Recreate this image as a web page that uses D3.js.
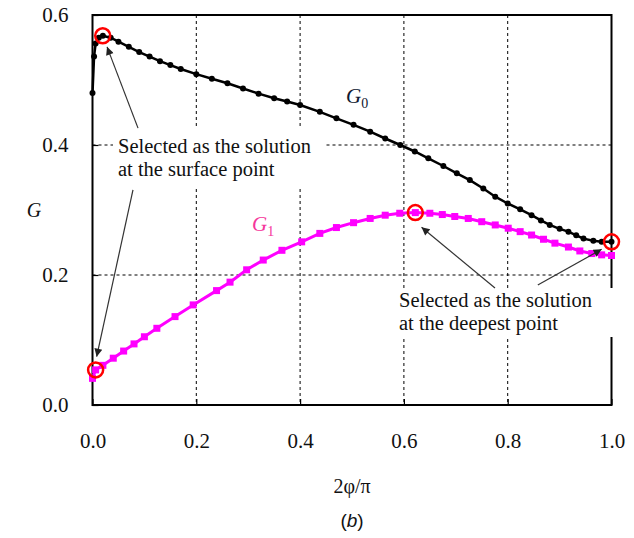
<!DOCTYPE html>
<html><head><meta charset="utf-8">
<script src="https://cdn.jsdelivr.net/npm/d3@7"></script>
<style>html,body{margin:0;padding:0;background:#fff;}svg{display:block;}</style>
</head><body>
<svg id="chart" width="634" height="538"></svg>
<script>
// ---- data ----
const g0X = [0,0.003,0.006,0.012,0.02,0.035,0.05,0.07,0.09,0.11,0.13,0.15,0.17,0.2,0.23,0.26,0.29,0.32,0.35,0.375,0.4,0.438,0.47,0.503,0.535,0.564,0.593,0.621,0.647,0.676,0.702,0.727,0.753,0.776,0.8,0.824,0.846,0.864,0.881,0.9,0.917,0.932,0.946,0.965,0.981,1.0];
const g0Y = [0.48,0.536,0.556,0.565,0.568,0.565,0.559,0.551,0.543,0.536,0.529,0.523,0.517,0.509,0.502,0.495,0.487,0.479,0.472,0.467,0.4615,0.451,0.441,0.431,0.4205,0.41,0.4,0.39,0.3795,0.3677,0.3564,0.346,0.333,0.3205,0.31,0.301,0.292,0.284,0.277,0.271,0.2667,0.261,0.256,0.2528,0.2513,0.251];
const g1X = [0,0.006,0.02,0.04,0.06,0.08,0.1,0.124,0.159,0.194,0.239,0.265,0.297,0.329,0.365,0.403,0.438,0.47,0.503,0.535,0.564,0.592,0.622,0.65,0.674,0.698,0.724,0.75,0.776,0.801,0.824,0.846,0.869,0.891,0.917,0.939,0.962,0.981,1.0];
const g1Y = [0.041,0.054,0.061,0.072,0.083,0.094,0.105,0.118,0.136,0.154,0.176,0.189,0.208,0.223,0.238,0.251,0.264,0.273,0.2805,0.287,0.292,0.295,0.296,0.295,0.293,0.29,0.287,0.282,0.277,0.272,0.2667,0.2615,0.255,0.249,0.243,0.237,0.233,0.231,0.23];
const selX = [0.0197,0.006,0.622,1.0];
const selY = [0.568,0.054,0.296,0.251];
const xTicks = [0,0.2,0.4,0.6,0.8,1.0];
const yTicks = [0,0.2,0.4,0.6];
const xTickLabels = ["0.0","0.2","0.4","0.6","0.8","1.0"];
const yTickLabels = ["0.0","0.2","0.4","0.6"];
const noteTop = ["Selected as the solution","at the surface point"];
const noteBottom = ["Selected as the solution","at the deepest point"];
// arrows in data units: [x1,y1,x2(tip),y2(tip)]
const arrows = [[0.0877,0.426,0.028,0.551],[0.078,0.331,0.008,0.0743],[0.7755,0.18,0.634,0.2734],[0.858,0.1846,0.981,0.2395]];

// ---- layout ----
const L=92.5, R=611.5, T=15, B=405;
const x = d3.scaleLinear().domain([0,1]).range([L,R]);
const y = d3.scaleLinear().domain([0,0.6]).range([B,T]);
const svg = d3.select("#chart");
const serif = "'Liberation Serif','Times New Roman',serif";

// grid
svg.append("g").selectAll("line").data(xTicks.filter(v=>v>0&&v<1)).join("line")
  .attr("x1",d=>x(d)).attr("x2",d=>x(d)).attr("y1",T).attr("y2",B)
  .attr("stroke","#000").attr("stroke-width",1).attr("stroke-dasharray","3,3");
svg.append("g").selectAll("line").data(yTicks.filter(v=>v>0&&v<0.6)).join("line")
  .attr("x1",L).attr("x2",R).attr("y1",d=>y(d)).attr("y2",d=>y(d))
  .attr("stroke","#000").attr("stroke-width",1).attr("stroke-dasharray","3,3");

// axes (inner ticks)
const xAxis = svg.append("g").attr("transform",`translate(0,${B})`)
  .call(d3.axisBottom(x).tickValues(xTicks).tickSizeInner(-6).tickSizeOuter(0).tickPadding(28).tickFormat((d,i)=>xTickLabels[i]));
const yAxis = svg.append("g").attr("transform",`translate(${L},0)`)
  .call(d3.axisLeft(y).tickValues(yTicks).tickSizeInner(-6).tickSizeOuter(0).tickPadding(24).tickFormat((d,i)=>yTickLabels[i]));
[xAxis,yAxis].forEach(a=>{
  a.select(".domain").remove();
  a.selectAll(".tick line").attr("stroke","#000").attr("stroke-width",1.2);
  a.selectAll("text").attr("font-family",serif).attr("font-size",21).attr("fill","#111");
});
// frame
svg.append("rect").attr("x",L).attr("y",T).attr("width",R-L).attr("height",B-T)
  .attr("fill","none").attr("stroke","#000").attr("stroke-width",2);

// axis titles
svg.append("text").attr("x",x(0.5)).attr("y",493).attr("text-anchor","middle")
  .attr("font-family",serif).attr("font-size",20).attr("fill","#111").text("2φ/π");
svg.append("text").attr("x",x(0.5)).attr("y",527).attr("text-anchor","middle")
  .attr("font-family","'Liberation Sans',Arial,sans-serif").attr("font-size",19).attr("fill","#111")
  .html("(<tspan font-style='italic'>b</tspan>)");
svg.append("text").attr("x",34).attr("y",217).attr("text-anchor","middle")
  .attr("font-family",serif).attr("font-style","italic").attr("font-size",20).attr("fill","#111").text("G");

// series
const g0 = g0X.map((v,i)=>[v,g0Y[i]]);
const g1 = g1X.map((v,i)=>[v,g1Y[i]]);
const line = d3.line().x(d=>x(d[0])).y(d=>y(d[1]));
svg.append("path").datum(g1).attr("d",line).attr("fill","none").attr("stroke","#ff00ff").attr("stroke-width",3);
svg.append("g").selectAll("rect").data(g1).join("rect")
  .attr("x",d=>x(d[0])-3.5).attr("y",d=>y(d[1])-3.5).attr("width",7).attr("height",7).attr("fill","#ff00ff");
svg.append("path").datum(g0).attr("d",line).attr("fill","none").attr("stroke","#000").attr("stroke-width",2.5);
svg.append("g").selectAll("circle").data(g0).join("circle")
  .attr("cx",d=>x(d[0])).attr("cy",d=>y(d[1])).attr("r",3).attr("fill","#000");

// series labels
const lab0 = svg.append("text").attr("x",346).attr("y",103).attr("font-family",serif).attr("font-size",21).attr("fill","#101830");
lab0.append("tspan").attr("font-style","italic").text("G");
lab0.append("tspan").attr("font-size",14).attr("dy",5).text("0");
const lab1 = svg.append("text").attr("x",252).attr("y",231).attr("font-family",serif).attr("font-size",21).attr("fill","#f5369b");
lab1.append("tspan").attr("font-style","italic").text("G");
lab1.append("tspan").attr("font-size",14).attr("dy",5).text("1");

// annotation boxes and text
function note(lines, tx, ty, box){
  svg.append("rect").attr("x",box[0]).attr("y",box[1]).attr("width",box[2]).attr("height",box[3]).attr("fill","#fff");
  lines.forEach((s,i)=>svg.append("text").attr("x",tx).attr("y",ty+i*23)
    .attr("font-family",serif).attr("font-size",20.5).attr("fill","#111").text(s));
}
note(noteTop,118,153,[113,128,212,58]);
note(noteBottom,399,307,[395,288,222,49]);

// arrows
svg.append("defs").append("marker").attr("id","ah").attr("viewBox","0 0 10 10")
  .attr("refX",10).attr("refY",5).attr("markerWidth",11).attr("markerHeight",8)
  .attr("markerUnits","userSpaceOnUse").attr("orient","auto")
  .append("path").attr("d","M0,0L10,5L0,10Z").attr("fill","#222");
svg.append("g").selectAll("line").data(arrows).join("line")
  .attr("x1",d=>x(d[0])).attr("y1",d=>y(d[1])).attr("x2",d=>x(d[2])).attr("y2",d=>y(d[3]))
  .attr("stroke","#333").attr("stroke-width",1.2).attr("marker-end","url(#ah)");

// selected points
svg.append("g").selectAll("circle").data(selX.map((v,i)=>[v,selY[i]])).join("circle")
  .attr("cx",d=>x(d[0])).attr("cy",d=>y(d[1])).attr("r",7.5)
  .attr("fill","none").attr("stroke","#ff0000").attr("stroke-width",2.5);
</script>
</body></html>
